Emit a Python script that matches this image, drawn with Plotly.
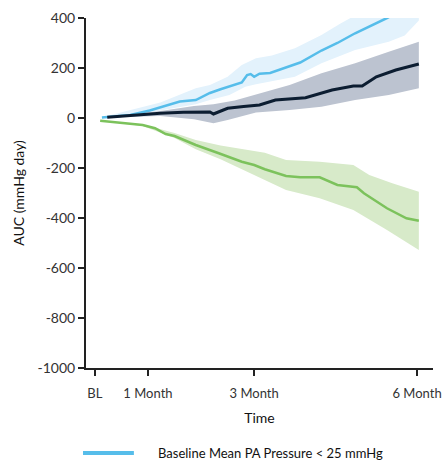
import plotly.graph_objects as go

# ---- data (days since baseline) ----
tick_vals = [0, 30, 90, 182]
tick_text = ["BL", "1 Month", "3 Month", "6 Month"]
y_tick_vals = [-1000, -800, -600, -400, -200, 0, 200, 400]
y_tick_text = ["-1000", "-800", "-600", "-400", "-200", "0", "200", "400"]

blue_days = [4, 20, 31, 38, 48, 57, 65, 71, 78, 83, 86, 88, 90, 93, 99, 107, 116, 128, 137, 147, 155, 165, 175, 183]
blue_mean = [2, 12, 30, 45, 66, 72, 100, 115, 130, 142, 172, 176, 165, 177, 180, 199, 222, 270, 300, 339, 365, 400, 435, 462]
blue_up_days = [4, 20, 37, 57, 65, 75, 83, 91, 100, 113, 128, 139, 150, 165, 183]
blue_up = [3, 32, 62, 119, 132, 165, 212, 239, 250, 279, 332, 379, 420, 480, 540]
blue_lo_days = [4, 20, 37, 57, 65, 76, 85, 91, 100, 113, 128, 147, 166, 175, 183]
blue_lo = [1, 8, 30, 55, 72, 92, 125, 135, 148, 165, 219, 272, 305, 330, 390]

black_days = [7, 20, 37, 50, 62, 65, 67, 70, 75, 84, 93, 102, 119, 134, 146, 151, 159, 170, 183]
black_mean = [3, 10, 19, 23, 26, 24, 16, 24, 39, 46, 52, 72, 81, 112, 128, 128, 165, 192, 216]
black_up_days = [7, 20, 37, 56, 67, 79, 91, 110, 128, 147, 166, 183]
black_up = [4, 14, 28, 48, 55, 70, 95, 132, 179, 219, 265, 305]
black_lo_days = [7, 20, 37, 56, 67, 75, 91, 110, 128, 147, 166, 183]
black_lo = [2, 5, 8, -5, -21, -8, 22, 32, 45, 72, 92, 119]

green_days = [3, 15, 27, 34, 40, 45, 57, 70, 83, 90, 96, 108, 116, 127, 137, 148, 152, 165, 176, 183]
green_mean = [-11, -18, -28, -41, -64, -72, -108, -141, -175, -188, -205, -232, -237, -237, -268, -277, -301, -361, -401, -411]
green_up_days = [3, 27, 45, 57, 71, 83, 96, 108, 127, 146, 155, 168, 183]
green_up = [-10, -25, -60, -88, -110, -125, -139, -168, -175, -188, -228, -261, -295]
green_lo_days = [3, 27, 45, 57, 71, 90, 108, 127, 146, 165, 183]
green_lo = [-12, -32, -80, -125, -165, -228, -288, -321, -368, -448, -528]

legend_label = "Baseline Mean PA Pressure < 25 mmHg"

BLUE = "#56bdea"
BLUE_BAND = "#e3f2fc"
NAVY = "#0c1d31"
GRAY_BAND = "#bcc3d0"
GREEN = "#7cc25c"
GREEN_BAND = "#d7eac9"

fig = go.Figure()


def band(xu, yu, xl, yl, color):
    fig.add_trace(go.Scatter(
        x=list(xu) + list(xl)[::-1], y=list(yu) + list(yl)[::-1],
        fill="toself", fillcolor=color, line=dict(width=0),
        mode="lines", hoverinfo="skip", showlegend=False))


band(blue_up_days, blue_up, blue_lo_days, blue_lo, BLUE_BAND)
band(black_up_days, black_up, black_lo_days, black_lo, GRAY_BAND)
band(green_up_days, green_up, green_lo_days, green_lo, GREEN_BAND)

fig.add_trace(go.Scatter(x=green_days, y=green_mean, mode="lines",
                         line=dict(color=GREEN, width=2.5), showlegend=False))
fig.add_trace(go.Scatter(x=blue_days, y=blue_mean, mode="lines", name=legend_label,
                         line=dict(color=BLUE, width=2.5), showlegend=False))
fig.add_trace(go.Scatter(x=black_days, y=black_mean, mode="lines",
                         line=dict(color=NAVY, width=3), showlegend=False))

FONT = "Lato"

fig.update_layout(
    width=442, height=465,
    margin=dict(l=86, r=9, t=18, b=97, autoexpand=False),
    plot_bgcolor="white", paper_bgcolor="white",
    font=dict(family=FONT, color="#333333", size=14),
    showlegend=False,
)
fig.update_xaxes(
    range=[-5, 191], tickvals=tick_vals, ticktext=tick_text, automargin=False,
    showgrid=False, zeroline=False, showline=True, linecolor="#222222", linewidth=2,
    ticks="outside", ticklen=6, tickwidth=2, tickcolor="#222222",
    ticklabelstandoff=6,
    tickfont=dict(size=13, color="#333333", family=FONT),
    title=dict(text="Time", font=dict(size=14, color="#111111", family=FONT), standoff=14),
)
fig.update_yaxes(
    range=[-1000, 400], tickvals=y_tick_vals, ticktext=y_tick_text, automargin=False,
    showgrid=False, zeroline=False, showline=True, linecolor="#222222", linewidth=2,
    ticks="outside", ticklen=6, tickwidth=2, tickcolor="#222222",
    tickfont=dict(size=14, color="#333333", family=FONT),
    title=dict(text="AUC (mmHg day)", font=dict(size=14, color="#111111", family=FONT), standoff=10),
)

# legend (single visible entry)
fig.add_shape(type="line", xref="paper", yref="paper",
              x0=-0.0086, x1=0.138, y0=-0.243, y1=-0.243,
              line=dict(color=BLUE, width=4))
fig.add_annotation(text=legend_label, xref="paper", yref="paper",
                   x=0.2017, y=-0.243, xanchor="left", yanchor="middle", showarrow=False,
                   font=dict(size=13, color="#111111", family=FONT))

fig.write_html("out.html", config={"displayModeBar": False},
               post_script="document.body.style.margin='0';document.body.style.overflow='hidden';")
